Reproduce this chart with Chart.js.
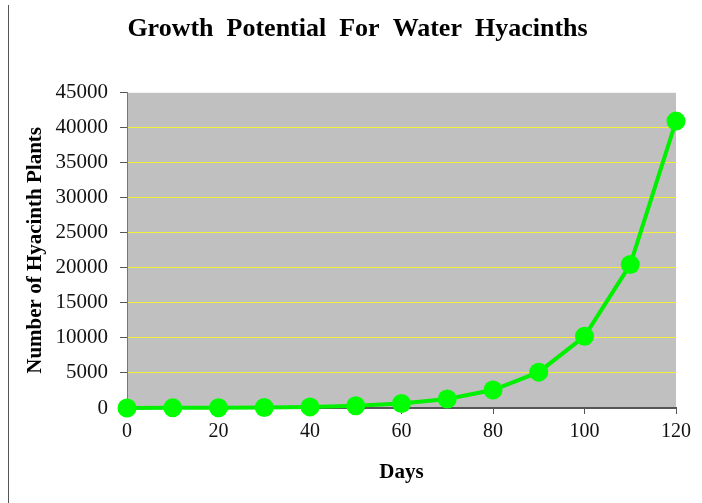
<!DOCTYPE html>
<html>
<head>
<meta charset="utf-8">
<script src="https://cdn.jsdelivr.net/npm/chart.js@4/dist/chart.umd.min.js"></script>
<style>
  html, body { margin: 0; padding: 0; background: #fff; }
  #wrap { width: 702px; height: 503px; }
</style>
</head>
<body>
<div id="wrap"><canvas id="growthChart" width="702" height="503"></canvas></div>
<script>
// days since start, and plant count
var days = [0, 10, 20, 30, 40, 50, 60, 70, 80, 90, 100, 110, 120];
var plants = [10, 20, 40, 80, 160, 320, 640, 1280, 2560, 5120, 10240, 20480, 40960];
var yTicks = [0, 5000, 10000, 15000, 20000, 25000, 30000, 35000, 40000, 45000];
var xTicks = [0, 20, 40, 60, 80, 100, 120];

var serif = "'Liberation Serif', 'Times New Roman', Times, serif";

// gray plot area + the page rule on the left
var plotBack = {
    id: 'plotBack',
    beforeDraw: function(chart) {
        var a = chart.chartArea, ctx = chart.ctx;
        ctx.save();
        ctx.fillStyle = '#c0c0c0';
        ctx.fillRect(a.left, a.top, a.right - a.left, a.bottom - a.top);
        ctx.restore();
    },
    afterDraw: function(chart) {
        var ctx = chart.ctx;
        ctx.save();
        ctx.strokeStyle = '#555';
        ctx.lineWidth = 1;
        ctx.beginPath();
        ctx.moveTo(8.5, 5);
        ctx.lineTo(8.5, 503);
        ctx.stroke();
        ctx.restore();
    }
};

var ctx = document.getElementById('growthChart');
var chart = new Chart(ctx, {
    type: 'scatter',
    data: {
        datasets: [{
            label: 'Hyacinths',
            data: days.map(function(d, i) { return {x: d, y: plants[i]}; }),
            showLine: true,
            borderColor: '#00f000',
            backgroundColor: '#00ff00',
            borderWidth: 4,
            pointRadius: 9.5,
            pointHoverRadius: 9.5,
            pointBorderWidth: 0,
            clip: false
        }]
    },
    options: {
        responsive: false,
        animation: false,
        layout: { padding: { left: 0, right: 0, top: 0, bottom: 0 } },
        plugins: {
            legend: { display: false },
            tooltip: { enabled: false },
            title: {
                display: true,
                text: '  Growth  Potential  For  Water  Hyacinths',
                color: '#000',
                font: { family: serif, size: 26, weight: 'bold' },
                padding: { top: 14, bottom: 47.6 }
            }
        },
        scales: {
            x: {
                type: 'linear',
                min: 0,
                max: 120,
                afterBuildTicks: function(s) { s.ticks = xTicks.map(function(v) { return {value: v}; }); },
                afterFit: function(s) { s.height = 95; },
                ticks: {
                    color: '#111',
                    font: { family: serif, size: 20 },
                    padding: 6,
                    maxRotation: 0,
                    callback: function(v) { return String(v); }
                },
                grid: {
                    drawOnChartArea: false,
                    drawTicks: true,
                    tickLength: 6,
                    tickColor: '#555'
                },
                border: { color: '#555', width: 2 },
                title: {
                    display: true,
                    text: 'Days',
                    color: '#000',
                    font: { family: serif, size: 21, weight: 'bold' },
                    padding: { top: 0, bottom: 18 }
                }
            },
            y: {
                min: 0,
                max: 45000,
                afterBuildTicks: function(s) { s.ticks = yTicks.map(function(v) { return {value: v}; }); },
                afterFit: function(s) { s.width = 127; },
                ticks: {
                    color: '#111',
                    font: { family: serif, size: 21 },
                    padding: 12,
                    callback: function(v) { return String(v); }
                },
                grid: {
                    color: function(c) {
                        var v = c.tick ? c.tick.value : 0;
                        return (v === 0 || v === 45000) ? 'rgba(0,0,0,0)' : '#f2ee3a';
                    },
                    lineWidth: 1,
                    drawTicks: true,
                    tickLength: 7,
                    tickColor: '#555'
                },
                border: { color: '#777', width: 1 },
                title: {
                    display: true,
                    text: 'Number of Hyacinth Plants',
                    color: '#000',
                    font: { family: serif, size: 21, weight: 'bold' },
                    padding: { top: 23, bottom: 0 }
                }
            },
            // empty spacer so the plot ends where the original does
            spacer: {
                type: 'linear',
                position: 'right',
                display: true,
                afterFit: function(s) { s.width = 26; },
                ticks: { display: false },
                grid: { display: false },
                border: { display: false }
            }
        }
    },
    plugins: [plotBack]
});
</script>
</body>
</html>
